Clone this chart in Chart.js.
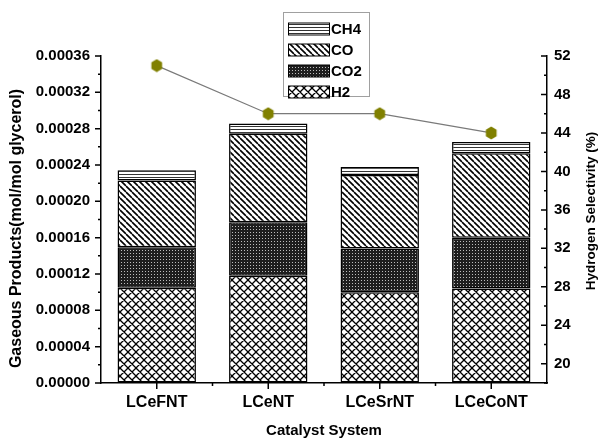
<!DOCTYPE html>
<html><head><meta charset="utf-8">
<script src="https://cdn.jsdelivr.net/npm/chart.js@4"></script>
<style>html,body{margin:0;padding:0;background:#fff}</style>
</head><body>
<canvas id="c" width="601" height="438"></canvas>
<script>
// ---- data ----
const categories = ['LCeFNT', 'LCeNT', 'LCeSrNT', 'LCeCoNT'];
const h2Values  = [0.000105, 0.000118, 0.000100, 0.000104];
const co2Values = [0.0000445, 0.000059, 0.000048, 0.000056];
const coValues  = [0.0000735, 0.0000975, 0.000081, 0.000093];
const ch4Values = [0.0000112, 0.0000113, 0.0000087, 0.0000122];
const selectivity = [51, 46, 46, 44];
const leftTicks = [0, 0.00004, 0.00008, 0.00012, 0.00016, 0.00020, 0.00024, 0.00028, 0.00032, 0.00036];
const rightTicks = [20, 24, 28, 32, 36, 40, 44, 48, 52];
const xTitle = 'Catalyst System';
const leftTitle = 'Gaseous Products(mol/mol glycerol)';
const rightTitle = 'Hydrogen Selectivity (%)';

const FONT = "'Liberation Sans', Arial, sans-serif";
const canvas = document.getElementById('c');
const mainCtx = canvas.getContext('2d');

function makePattern(kind) {
  const c = document.createElement('canvas');
  const g = c.getContext('2d');
  if (kind === 'ch4') {
    c.width = 4; c.height = 3;
    g.fillStyle = '#fff'; g.fillRect(0, 0, 4, 3);
    g.fillStyle = '#333'; g.fillRect(0, 0, 4, 1);
  } else if (kind === 'co') {
    c.width = 6; c.height = 6;
    g.fillStyle = '#fff'; g.fillRect(0, 0, 6, 6);
    g.strokeStyle = '#000'; g.lineWidth = 1.6;
    g.beginPath();
    [-6, 0, 6].forEach(o => { g.moveTo(o, 0); g.lineTo(o + 6, 6); });
    g.stroke();
  } else if (kind === 'co2') {
    c.width = 3; c.height = 3;
    g.fillStyle = '#1e1e1e'; g.fillRect(0, 0, 3, 3);
    g.fillStyle = '#bdbdbd'; g.fillRect(1, 1, 1, 1);
  } else if (kind === 'h2') {
    c.width = 8; c.height = 8;
    g.fillStyle = '#fff'; g.fillRect(0, 0, 8, 8);
    g.strokeStyle = '#000'; g.lineWidth = 1.3;
    g.beginPath();
    [-8, 0, 8].forEach(o => { g.moveTo(o, 0); g.lineTo(o + 8, 8); g.moveTo(o, 8); g.lineTo(o + 8, 0); });
    g.stroke();
  }
  return mainCtx.createPattern(c, 'repeat');
}
const pat = { h2: makePattern('h2'), co2: makePattern('co2'), co: makePattern('co'), ch4: makePattern('ch4') };

function hexagon() {
  const c = document.createElement('canvas');
  c.width = 14; c.height = 14;
  const g = c.getContext('2d');
  g.fillStyle = '#808000';
  g.beginPath();
  for (let k = 0; k < 6; k++) {
    const a = Math.PI / 2 + k * Math.PI / 3;
    const px = 7 + 6.2 * Math.cos(a), py = 7 + 6.6 * Math.sin(a);
    k ? g.lineTo(px, py) : g.moveTo(px, py);
  }
  g.closePath(); g.fill();
  return c;
}

const isMajor = (list, v) => list.some(t => Math.abs(t - v) < 1e-9);

function barDs(label, data, bg) {
  return { type: 'bar', label, data, backgroundColor: bg, borderColor: '#000', borderWidth: 1.5,
    borderSkipped: false, yAxisID: 'y', stack: 'gas', order: 2,
    categoryPercentage: 1, barPercentage: 0.703 };
}

const decor = {
  id: 'decor',
  afterDraw(chart) {
    const ctx = chart.ctx, ca = chart.chartArea;
    const { x, y, y1 } = chart.scales;
    ctx.save();
    ctx.strokeStyle = '#000'; ctx.lineWidth = 1.5;
    ctx.beginPath();
    y.ticks.forEach(t => {
      const py = y.getPixelForValue(t.value), len = isMajor(leftTicks, t.value) ? 6 : 3;
      ctx.moveTo(ca.left - len, py); ctx.lineTo(ca.left, py);
    });
    y1.ticks.forEach(t => {
      const py = y1.getPixelForValue(t.value), len = isMajor(rightTicks, t.value) ? 6 : 3;
      ctx.moveTo(ca.right, py); ctx.lineTo(ca.right - len, py);
    });
    categories.forEach((_, i) => {
      const px = x.getPixelForValue(i);
      ctx.moveTo(px, ca.bottom); ctx.lineTo(px, ca.bottom + 6);
      if (i < categories.length - 1) {
        const pm = (px + x.getPixelForValue(i + 1)) / 2;
        ctx.moveTo(pm, ca.bottom); ctx.lineTo(pm, ca.bottom + 3);
      }
    });
    ctx.stroke();

    // vertical axis titles
    ctx.fillStyle = '#000';
    ctx.textAlign = 'center'; ctx.textBaseline = 'middle';
    ctx.save(); ctx.translate(17, 228.5); ctx.rotate(-Math.PI / 2);
    ctx.font = 'bold 16px ' + FONT; ctx.fillText(leftTitle, 0, 0); ctx.restore();
    ctx.save(); ctx.translate(591.5, 211); ctx.rotate(-Math.PI / 2);
    ctx.font = 'bold 13.5px ' + FONT; ctx.fillText(rightTitle, 0, 0); ctx.restore();

    // legend (inside plot, reversed order)
    const bars = chart.data.datasets.filter(d => d.type === 'bar').slice().reverse();
    const bx = 283.5, by = 12.5, bw = 86, bh = 84;
    ctx.fillStyle = '#fff'; ctx.fillRect(bx, by, bw, bh);
    ctx.strokeStyle = '#a0a0a0'; ctx.lineWidth = 1; ctx.strokeRect(bx, by, bw, bh);
    ctx.font = 'bold 15px ' + FONT; ctx.textAlign = 'left';
    bars.forEach((d, i) => {
      const cy = 29 + i * 21;
      ctx.fillStyle = d.backgroundColor; ctx.fillRect(288.5, cy - 6, 41, 12);
      ctx.strokeStyle = '#000'; ctx.lineWidth = 1; ctx.strokeRect(288.5, cy - 6, 41, 12);
      ctx.fillStyle = '#000'; ctx.fillText(d.label, 331, cy + 1);
    });
    ctx.restore();
  }
};

new Chart(canvas, {
  data: {
    labels: categories,
    datasets: [
      barDs('H2', h2Values, pat.h2),
      barDs('CO2', co2Values, pat.co2),
      barDs('CO', coValues, pat.co),
      barDs('CH4', ch4Values, pat.ch4),
      { type: 'line', label: 'Hydrogen Selectivity', data: selectivity, yAxisID: 'y1', order: 0,
        borderColor: '#7a7a7a', borderWidth: 1.2, pointStyle: hexagon(), pointRadius: 7,
        pointBackgroundColor: '#808000', pointBorderColor: '#808000', tension: 0 }
    ]
  },
  options: {
    responsive: false, animation: false,
    layout: { padding: { top: 56, left: 0, right: 0, bottom: 0 } },
    plugins: { legend: { display: false }, tooltip: { enabled: false } },
    scales: {
      x: {
        stacked: true, offset: true,
        grid: { display: true, drawOnChartArea: false, drawTicks: true, tickLength: 6, tickColor: 'rgba(0,0,0,0)' },
        border: { color: '#000', width: 1.5 },
        ticks: { color: '#000', font: { family: FONT, size: 16, weight: 'bold' }, padding: 4, maxRotation: 0 },
        title: { display: true, text: xTitle, color: '#000', font: { family: FONT, size: 15, weight: 'bold', lineHeight: 1 }, padding: { top: 0, bottom: 0 } },
        afterFit: s => { s.height = 55; }
      },
      y: {
        stacked: true, position: 'left', min: 0, max: 0.00036,
        afterBuildTicks: s => {
          const all = [];
          leftTicks.forEach((v, i) => { all.push({ value: v }); if (i < leftTicks.length - 1) all.push({ value: (v + leftTicks[i + 1]) / 2 }); });
          s.ticks = all;
        },
        grid: { display: true, drawOnChartArea: false, drawTicks: true, tickLength: 6, tickColor: 'rgba(0,0,0,0)' },
        border: { color: '#000', width: 1.5 },
        ticks: { autoSkip: false, color: '#000', font: { family: FONT, size: 15, weight: 'bold' }, padding: 5,
          callback: v => isMajor(leftTicks, v) ? v.toFixed(5) : '' },
        afterFit: s => { s.width = 101; }
      },
      y1: {
        position: 'right', min: 18, max: 52,
        afterBuildTicks: s => {
          const all = [{ value: 18 }];
          rightTicks.forEach((v, i) => { all.push({ value: v }); if (i < rightTicks.length - 1) all.push({ value: (v + rightTicks[i + 1]) / 2 }); });
          s.ticks = all;
        },
        grid: { display: true, drawOnChartArea: false, drawTicks: false },
        border: { color: '#000', width: 1.5 },
        ticks: { autoSkip: false, color: '#000', font: { family: FONT, size: 15, weight: 'bold' }, padding: 7,
          callback: v => isMajor(rightTicks, v) ? String(v) : '' },
        afterFit: s => { s.width = 54; }
      }
    }
  },
  plugins: [decor]
});
</script>
</body></html>
